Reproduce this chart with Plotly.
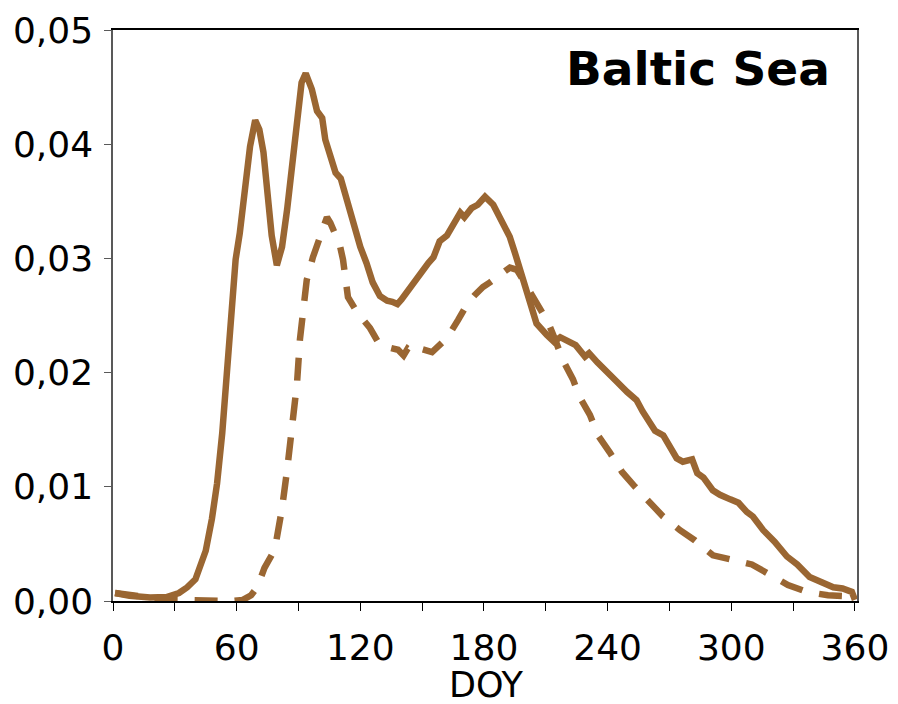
import plotly.graph_objects as go

solid_doy = [1, 8, 18, 26, 32, 36, 40, 43, 45, 48, 50.5, 53, 55.5, 57.5, 59.5, 61.5, 64, 66.5, 69, 71, 73, 75, 77,
             79.5, 82, 84.5, 87, 89.5, 91.5, 93.5, 96.5, 99, 101.5, 103, 105.5, 108, 110.5, 113.5, 116.5, 120, 123,
             126, 129.5, 133, 135.5, 138, 140, 144, 149, 153, 155.5, 158.5, 162, 166, 168.5, 170.5, 174, 177, 180.5,
             184.5, 189, 192.5, 195, 197.5, 200, 202.5, 205.5, 210.5, 214, 217, 221.5, 224.5, 229, 231, 235, 237.5,
             241, 244.5, 249.5, 254, 257, 260.5, 263, 267, 269.5, 273.5, 276.5, 281, 283.5, 286.5, 291, 294.5, 299.5,
             303.5, 307.5, 310.5, 315.5, 321, 327, 332, 338, 344.5, 349.5, 354, 358.5, 360]
solid_val = [0.0007, 0.00045, 0.0003, 0.00035, 0.0007, 0.0012, 0.0019, 0.0032, 0.0044, 0.0072, 0.0103, 0.0147,
             0.0205, 0.0262, 0.0299, 0.0322, 0.0357, 0.0398, 0.0421, 0.0413, 0.0393, 0.0349, 0.032, 0.0294, 0.031,
             0.0343, 0.0387, 0.0426, 0.0454, 0.0462, 0.0448, 0.0429, 0.0423, 0.0404, 0.0391, 0.0375, 0.037, 0.035,
             0.0328, 0.031, 0.0296, 0.0279, 0.0267, 0.0263, 0.0262, 0.026, 0.0264, 0.0274, 0.0288, 0.0296, 0.0301,
             0.0315, 0.032, 0.0334, 0.034, 0.0336, 0.0344, 0.0347, 0.0354, 0.0347, 0.0331, 0.0319, 0.0305, 0.029,
             0.0275, 0.0257, 0.0243, 0.0233, 0.0227, 0.0231, 0.0226, 0.0224, 0.0214, 0.0217, 0.0209, 0.0205, 0.0198,
             0.0192, 0.0183, 0.0176, 0.0166, 0.0157, 0.0149, 0.0145, 0.0138, 0.0125, 0.0122, 0.0124, 0.0112, 0.0108,
             0.0097, 0.0093, 0.0089, 0.0086, 0.0078, 0.0074, 0.0062, 0.0052, 0.0039, 0.0032, 0.0021, 0.0016, 0.0012,
             0.0011, 0.0008, 0.0001]

dashed_doy = [1, 8, 15, 22, 28, 35, 42, 50, 58, 63, 67, 70, 73.5, 78.5, 82, 84.5, 87, 89.3, 90.7, 92, 94, 97,
              100.4, 103.8, 105.5, 107.7, 110, 111.6, 112.6, 114, 118.4, 121.3, 124.7, 129.5, 133.4, 138.3, 141,
              143, 145.6, 149, 154.8, 158.7, 162, 167.4, 172.2, 175.6, 179.5, 182.9, 186.3, 192.6, 196, 200.9,
              206.2, 211.1, 214.5, 218.3, 223.2, 226.6, 231.4, 235.3, 241.1, 247, 253.3, 259.6, 266.9, 275.1,
              282.4, 291.1, 300.3, 310, 318.8, 327.5, 336.7, 346.9, 360]
dashed_val = [0.0007, 0.0005, 0.0004, 0.0002, 0.0001, 0.00005, 0.0, 0.0, 0.0, 0.0001, 0.0005, 0.0012, 0.0029,
              0.0045, 0.0081, 0.0115, 0.0154, 0.0191, 0.0229, 0.0255, 0.0281, 0.0301, 0.0319, 0.0336, 0.0331,
              0.032, 0.0312, 0.0299, 0.0285, 0.0266, 0.0253, 0.0246, 0.0239, 0.0224, 0.0222, 0.022, 0.0215, 0.0221,
              0.0218, 0.0221, 0.0218, 0.0224, 0.023, 0.0246, 0.0261, 0.0268, 0.0275, 0.0279, 0.0284, 0.0292, 0.029,
              0.0275, 0.0259, 0.0244, 0.0229, 0.0211, 0.0194, 0.0178, 0.0163, 0.0145, 0.013, 0.0113, 0.01, 0.0087,
              0.0074, 0.0062, 0.0053, 0.004, 0.0036, 0.0032, 0.0023, 0.0014, 0.0008, 0.0005, 0.0004]

x_ticks = [0, 60, 120, 180, 240, 300, 360]
x_minor_ticks = [30, 90, 150, 210, 270, 330]
y_ticks = [0.0, 0.01, 0.02, 0.03, 0.04, 0.05]

COLOR = "#9A6632"
FONT = "DejaVu Sans, sans-serif"

fig = go.Figure()
fig.add_trace(go.Scatter(x=dashed_doy, y=dashed_val, mode="lines",
                         line=dict(color=COLOR, width=6.5, dash="23px,17px"), showlegend=False))
fig.add_trace(go.Scatter(x=solid_doy, y=solid_val, mode="lines",
                         line=dict(color=COLOR, width=6.5), showlegend=False))

fig.update_layout(
    width=898, height=704,
    margin=dict(l=113, r=41, t=30, b=103, autoexpand=False),
    plot_bgcolor="white", paper_bgcolor="white",
    separators=",.",
    font=dict(family=FONT, size=36, color="black"),
    xaxis=dict(range=[0, 361], tickvals=x_ticks, ticks="outside", ticklen=8, tickwidth=1.3,
               tickcolor="black", showline=True, linecolor="black", linewidth=1.5, mirror=True,
               showgrid=False, zeroline=False, ticklabelstandoff=6, automargin=False,
               minor=dict(tickvals=x_minor_ticks, ticks="outside", ticklen=8,
                          tickcolor="black", tickwidth=1.3)),
    yaxis=dict(range=[0, 0.05], tickvals=y_ticks, tickformat=".2f", ticks="outside", ticklen=7,
               tickwidth=1.3, tickcolor="#595959", showline=True, linecolor="#595959", linewidth=1.5,
               mirror=True, showgrid=False, zeroline=False, ticklabelstandoff=4, automargin=False),
    annotations=[
        dict(text="Baltic Sea", xref="paper", yref="paper", x=0.786, y=0.933,
             xanchor="center", yanchor="middle", showarrow=False,
             font=dict(family=FONT, size=47, color="black", weight="bold")),
        dict(text="DOY", xref="paper", yref="paper", x=0.502, y=-0.147,
             xanchor="center", yanchor="middle", showarrow=False, borderpad=0,
             font=dict(family=FONT, size=35, color="black")),
    ],
)

fig.write_html("out.html", config={"displayModeBar": False},
               post_script="document.body.style.margin='0';")
